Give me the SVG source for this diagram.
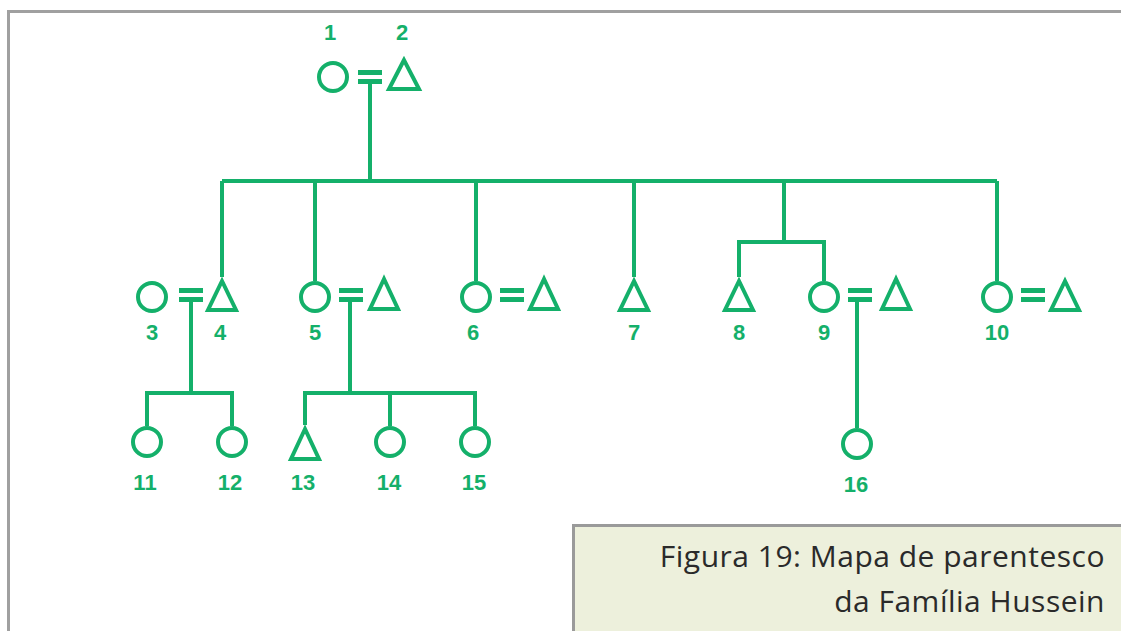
<svg xmlns="http://www.w3.org/2000/svg" width="1121" height="631" viewBox="0 0 1121 631">
<style>
.ln{stroke:#14b06a;stroke-width:4;fill:none;stroke-linecap:butt}
.c{stroke:#14b06a;stroke-width:4;fill:#fff}
.t{stroke:#14b06a;stroke-width:4;fill:#fff;stroke-linejoin:miter}
.eq{fill:#14b06a}
.lb{font-family:"Liberation Sans",Arial,sans-serif;font-weight:bold;font-size:22px;fill:#14b06a;text-anchor:middle}
.cap{font-family:"Open Sans","Noto Sans",sans-serif;font-size:30px;letter-spacing:0.5px;fill:#2a2a2a;text-anchor:end}
</style>
<rect x="0" y="0" width="1121" height="631" fill="#fff"/>
<g id="frame">
<path d="M8.5 631 V11.5 H1121" fill="none" stroke="#a0a0a0" stroke-width="3"/>
</g>
<g id="connectors">
<path class="ln" d="M370 84 V181"/>
<path class="ln" d="M222 181 H997"/>
<path class="ln" d="M222 181 V277"/>
<path class="ln" d="M315 181 V281"/>
<path class="ln" d="M476 181 V281"/>
<path class="ln" d="M634 181 V277"/>
<path class="ln" d="M784 181 V242"/>
<path class="ln" d="M997 181 V281"/>
<path class="ln" d="M739 277 V242 H824 V281"/>
<path class="ln" d="M191 302 V393"/>
<path class="ln" d="M147 426 V393 H232 V426"/>
<path class="ln" d="M350 302 V393"/>
<path class="ln" d="M305 425 V393 H475 V426"/>
<path class="ln" d="M390 393 V426"/>
<path class="ln" d="M857 302 V428"/>
</g>
<g id="couple-1-2">
<circle class="c" cx="333" cy="77" r="14"/>
<rect class="eq" x="358" y="70" width="24" height="5"/>
<rect class="eq" x="358" y="79" width="24" height="5"/>
<path class="t" d="M404 60 L389 89 L419 89 Z"/>
<text class="lb" x="330" y="40">1</text>
<text class="lb" x="402" y="40">2</text>
</g>
<g id="couple-3-4">
<circle class="c" cx="152" cy="297" r="14"/>
<rect class="eq" x="179" y="288" width="24" height="5"/>
<rect class="eq" x="179" y="297" width="24" height="5"/>
<path class="t" d="M222 281 L208 310 L236 310 Z"/>
<text class="lb" x="152" y="340">3</text>
<text class="lb" x="220" y="340">4</text>
</g>
<g id="couple-5">
<circle class="c" cx="315" cy="297" r="14"/>
<rect class="eq" x="339" y="288" width="24" height="5"/>
<rect class="eq" x="339" y="297" width="24" height="5"/>
<path class="t" d="M384 279 L370 309 L398 309 Z"/>
<text class="lb" x="315" y="340">5</text>
</g>
<g id="couple-6">
<circle class="c" cx="476" cy="297" r="14"/>
<rect class="eq" x="500" y="288" width="24" height="5"/>
<rect class="eq" x="500" y="297" width="24" height="5"/>
<path class="t" d="M544 279 L530 309 L558 309 Z"/>
<text class="lb" x="473" y="340">6</text>
</g>
<g id="person-7">
<path class="t" d="M634 281 L620 310 L648 310 Z"/>
<text class="lb" x="634" y="340">7</text>
</g>
<g id="person-8">
<path class="t" d="M739 281 L725 310 L753 310 Z"/>
<text class="lb" x="739" y="340">8</text>
</g>
<g id="couple-9">
<circle class="c" cx="824" cy="297" r="14"/>
<rect class="eq" x="848" y="288" width="24" height="5"/>
<rect class="eq" x="848" y="297" width="24" height="5"/>
<path class="t" d="M896 279 L882 309 L910 309 Z"/>
<text class="lb" x="824" y="340">9</text>
</g>
<g id="couple-10">
<circle class="c" cx="997" cy="297" r="14"/>
<rect class="eq" x="1021" y="288" width="24" height="5"/>
<rect class="eq" x="1021" y="297" width="24" height="5"/>
<path class="t" d="M1065 281 L1051 310 L1079 310 Z"/>
<text class="lb" x="997" y="340">10</text>
</g>
<g id="person-11">
<circle class="c" cx="147" cy="442" r="14"/>
<text class="lb" x="145" y="490">11</text>
</g>
<g id="person-12">
<circle class="c" cx="232" cy="442" r="14"/>
<text class="lb" x="230" y="490">12</text>
</g>
<g id="person-13">
<path class="t" d="M305 429 L291 459 L319 459 Z"/>
<text class="lb" x="303" y="490">13</text>
</g>
<g id="person-14">
<circle class="c" cx="390" cy="442" r="14"/>
<text class="lb" x="389" y="490">14</text>
</g>
<g id="person-15">
<circle class="c" cx="475" cy="442" r="14"/>
<text class="lb" x="474" y="490">15</text>
</g>
<g id="person-16">
<circle class="c" cx="857" cy="444" r="14"/>
<text class="lb" x="856" y="492">16</text>
</g>
<g id="caption">
<rect x="573.5" y="525.5" width="600" height="200" fill="#edf0dc" stroke="#9a9a9a" stroke-width="3"/>
<text class="cap" x="1105" y="567">Figura 19: Mapa de parentesco</text>
<text class="cap" x="1105" y="612">da Família Hussein</text>
</g>
</svg>
